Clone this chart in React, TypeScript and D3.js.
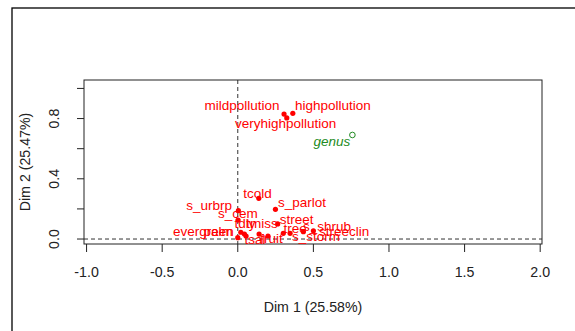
import * as d3 from 'd3';

// category coordinates (Dim 1, Dim 2)
const catNames = [
  'mildpollution', 'highpollution', 'veryhighpollution',
  'tcold', 's_parlot', 's_urbrp', 's_cem', 'tdly', 'tmiss', 'street',
  'evergreen', 'palm', 'tsal', 'fruit', 'tree', 's_shrub', 's_storm', 'streeclin',
];
const catX = [0.306, 0.364, 0.324, 0.139, 0.249, 0.004, 0.002, 0.02, 0.141, 0.264, 0.0, 0.044, 0.055, 0.2, 0.301, 0.434, 0.346, 0.5];
const catY = [0.83, 0.835, 0.804, 0.27, 0.197, 0.188, 0.126, 0.045, 0.033, 0.1, 0.009, 0.033, 0.02, 0.02, 0.038, 0.049, 0.038, 0.055];
// label anchors, also in plot units (moved to avoid overlap)
const labelX = [0.028, 0.629, 0.316, 0.13, 0.425, -0.19, 0.0, 0.048, 0.16, 0.39, -0.227, -0.13, 0.114, 0.223, 0.38, 0.59, 0.517, 0.703];
const labelY = [0.884, 0.884, 0.764, 0.304, 0.241, 0.221, 0.171, 0.104, 0.104, 0.131, 0.053, 0.049, 0.0, 0.005, 0.073, 0.086, 0.015, 0.049];

// supplementary variable
const supNames = ['genus'];
const supX = [0.758];
const supY = [0.691];
const supLabelX = [0.623];
const supLabelY = [0.646];

const xTicks = [-1.0, -0.5, 0.0, 0.5, 1.0, 1.5, 2.0];
const yTicks = [0, 0.2, 0.4, 0.6, 0.8, 1.0];
const yTickLabels = [0, 0.4, 0.8];

const W = 575;
const H = 331;
const box = { left: 84, right: 542, top: 80, bottom: 244 };
const font = '"Liberation Sans", Arial, sans-serif';
const fmt = (v: number) => d3.format('.1f')(v).replace('\u2212', '-');

export default function App() {
  const x = d3.scaleLinear().domain([-1.017, 2.012]).range([box.left, box.right]);
  const y = d3.scaleLinear().domain([-0.033, 1.056]).range([box.bottom, box.top]);

  return (
    <svg width={W} height={H} style={{ position: 'absolute', left: 0, top: 0, background: '#fff' }} fontFamily={font}>
      <rect x={0} y={0} width={W} height={H} fill="#fff" />
      {/* outer figure frame */}
      <rect x={12} y={8} width={700} height={500} fill="none" stroke="#000" strokeWidth={1.3} />

      {/* reference lines */}
      <line x1={x(0)} x2={x(0)} y1={box.top} y2={box.bottom} stroke="#333" strokeDasharray="4,3" />
      <line x1={box.left} x2={box.right} y1={y(0)} y2={y(0)} stroke="#333" strokeDasharray="4,3" />

      <rect x={box.left} y={box.top} width={box.right - box.left} height={box.bottom - box.top} fill="none" stroke="#222" />

      {/* x axis */}
      {xTicks.map(t => (
        <g key={'x' + t}>
          <line x1={x(t)} x2={x(t)} y1={box.bottom} y2={box.bottom + 8} stroke="#222" />
          <text x={x(t)} y={271.5} fontSize={14.2} textAnchor="middle" dominantBaseline="central" fill="#222">
            {fmt(t)}
          </text>
        </g>
      ))}
      <text x={313} y={307} fontSize={14.2} textAnchor="middle" dominantBaseline="central" fill="#222">Dim 1 (25.58%)</text>

      {/* y axis */}
      {yTicks.map(t => (
        <line key={'y' + t} x1={box.left - 7} x2={box.left} y1={y(t)} y2={y(t)} stroke="#222" />
      ))}
      {yTickLabels.map(t => (
        <text key={'yl' + t} transform={`translate(54,${y(t)}) rotate(-90)`} fontSize={14.2} textAnchor="middle" dominantBaseline="central" fill="#222">
          {fmt(t)}
        </text>
      ))}
      <text transform={`translate(25,162) rotate(-90)`} fontSize={14.2} textAnchor="middle" dominantBaseline="central" fill="#222">Dim 2 (25.47%)</text>

      {/* categories */}
      {catNames.map((n, i) => (
        <circle key={'p' + n} cx={x(catX[i])} cy={y(catY[i])} r={2.6} fill="#ff0000" />
      ))}
      {catNames.map((n, i) => (
        <text key={'t' + n} x={x(labelX[i])} y={y(labelY[i])} fontSize={13.5} textAnchor="middle" dominantBaseline="central" fill="#ff0000">
          {n}
        </text>
      ))}

      {supNames.map((n, i) => (
        <g key={n}>
          <circle cx={x(supX[i])} cy={y(supY[i])} r={2.8} fill="none" stroke="#228b22" strokeWidth={1} />
          <text x={x(supLabelX[i])} y={y(supLabelY[i])} fontSize={13.5} fontStyle="italic" textAnchor="middle" dominantBaseline="central" fill="#228b22">
            {n}
          </text>
        </g>
      ))}
    </svg>
  );
}
